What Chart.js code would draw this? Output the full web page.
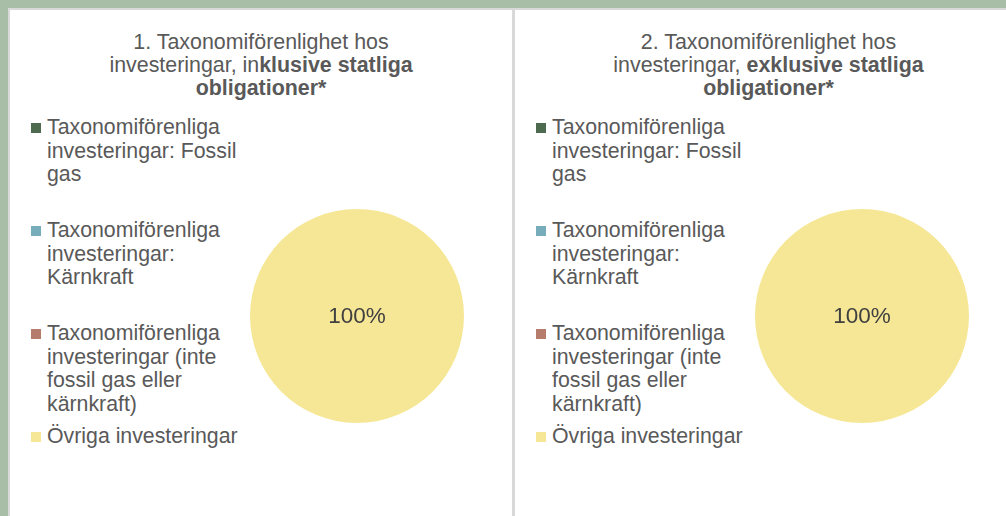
<!DOCTYPE html>
<html>
<head>
<meta charset="utf-8">
<script src="https://cdn.jsdelivr.net/npm/chart.js@4/dist/chart.umd.min.js"></script>
<style>
  html, body { margin: 0; padding: 0; }
  body { width: 1006px; height: 516px; overflow: hidden; background: #a9bea7; position: relative;
         font-family: "Liberation Sans", Arial, sans-serif; color: #595959; }
  .frame { position: absolute; left: 8px; top: 8px; width: 1100px; height: 600px; background: #d9d9d9; }
  .panel { position: absolute; top: 10px; height: 600px; background: #ffffff; }
  .title { position: absolute; top: 21px; width: 100%; text-align: center; font-size: 21.4px; line-height: 23px; }
  .title b { font-weight: bold; }
  .item { position: absolute; left: 21px; font-size: 21.3px; line-height: 23.5px; white-space: nowrap; }
  .item .sw { position: absolute; left: 0; top: 7px; width: 10px; height: 10px; }
  .item .tx { position: absolute; left: 16px; top: 0; }
  .pie { position: absolute; width: 220px; height: 220px; }
</style>
</head>
<body>
<div class="frame"></div>
<div id="p1" class="panel" style="left:10px; width:502px;"></div>
<div id="p2" class="panel" style="left:515px; width:507px;"></div>
<script>
// ---- data ----
const titleLine1 = ["1. Taxonomiförenlighet hos", "2. Taxonomiförenlighet hos"];
const titleLine2Plain = ["investeringar, in", "investeringar, "];
const titleLine2Bold = ["klusive statliga", "exklusive statliga"];
const titleLine3Bold = ["obligationer*", "obligationer*"];
const categories = [
  ["Taxonomiförenliga", "investeringar: Fossil", "gas"],
  ["Taxonomiförenliga", "investeringar:", "Kärnkraft"],
  ["Taxonomiförenliga", "investeringar (inte", "fossil gas eller", "kärnkraft)"],
  ["Övriga investeringar"]
];
const valuesInclusive = [0, 0, 0, 100];
const valuesExclusive = [0, 0, 0, 100];
const sliceColors = ["#4e6b4f", "#77adba", "#b57c6b", "#f6e796"];

const panels = [
  { el: document.getElementById('p1'), values: valuesInclusive },
  { el: document.getElementById('p2'), values: valuesExclusive }
];

const centerLabel = {
  id: 'centerLabel',
  afterDatasetsDraw(chart) {
    const ctx = chart.ctx;
    const ds = chart.data.datasets[0];
    const total = ds.data.reduce((a, b) => a + b, 0);
    const meta = chart.getDatasetMeta(0);
    ctx.save();
    ctx.font = '22.5px "Liberation Sans", Arial, sans-serif';
    ctx.fillStyle = '#404040';
    ctx.textAlign = 'center';
    ctx.textBaseline = 'middle';
    meta.data.forEach((arc, i) => {
      const v = ds.data[i];
      if (!v) return;
      const pct = Math.round(v / total * 100) + '%';
      let x, y;
      if (v === total) { x = arc.x; y = arc.y; }
      else { const p = arc.tooltipPosition(); x = p.x; y = p.y; }
      ctx.fillText(pct, x, y + 1);
    });
    ctx.restore();
  }
};

panels.forEach((p, idx) => {
  // title
  const t = document.createElement('div');
  t.className = 'title';
  t.innerHTML = titleLine1[idx] + '<br>' + titleLine2Plain[idx] + '<b>' + titleLine2Bold[idx] + '</b><br><b>' + titleLine3Bold[idx] + '</b>';
  p.el.appendChild(t);
  // legend
  const slotTops = [106, 209, 312, 415];
  categories.forEach((lines, i) => {
    const it = document.createElement('div');
    it.className = 'item';
    it.style.top = slotTops[i] + 'px';
    const sw = document.createElement('div');
    sw.className = 'sw';
    sw.style.background = sliceColors[i];
    const tx = document.createElement('div');
    tx.className = 'tx';
    tx.innerHTML = lines.join('<br>');
    it.appendChild(sw); it.appendChild(tx);
    p.el.appendChild(it);
  });
  // pie
  const wrap = document.createElement('div');
  wrap.className = 'pie';
  wrap.style.left = '237px';
  wrap.style.top = '196px';
  const cv = document.createElement('canvas');
  wrap.appendChild(cv);
  p.el.appendChild(wrap);
  new Chart(cv, {
    type: 'pie',
    data: {
      labels: categories,
      datasets: [{ data: p.values, backgroundColor: sliceColors, borderWidth: 0 }]
    },
    options: {
      responsive: true,
      maintainAspectRatio: false,
      animation: false,
      layout: { padding: 3 },
      plugins: { legend: { display: false }, tooltip: { enabled: false } }
    },
    plugins: [centerLabel]
  });
});
</script>
</body>
</html>
